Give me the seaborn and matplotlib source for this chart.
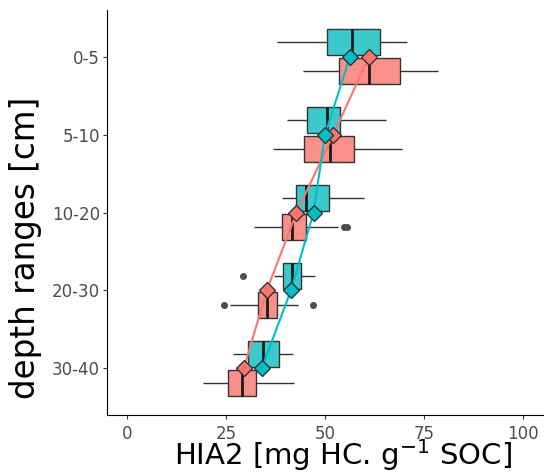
import matplotlib
matplotlib.use("Agg")
import pandas as pd
import matplotlib.pyplot as plt
import seaborn as sns

depths = ["0-5", "5-10", "10-20", "20-30", "30-40"]
groups = ["G1", "G2"]  # G1 = salmon (lower box), G2 = teal (upper box)

hia2_g1 = [
    [44.5, 49.8, 53.6, 57.4, 61.1, 64.7, 68.9, 71.4, 78.5],
    [36.9, 41.0, 44.8, 48.0, 51.3, 54.5, 57.2, 65.7, 69.5],
    [32.2, 33.5, 36.0, 39.2, 39.6, 40.5, 41.6, 42.0, 42.6, 45.3, 53.4, 54.9, 55.6],
    [24.6, 26.0, 30.5, 33.0, 33.8, 34.6, 35.3, 36.0, 37.0, 38.0, 39.8, 43.3, 47.0],
    [19.3, 22.5, 25.6, 27.0, 29.1, 30.5, 32.6, 36.7, 42.2],
]
hia2_g2 = [
    [37.9, 45.0, 50.6, 53.5, 56.7, 60.4, 63.9, 67.9, 70.8],
    [40.3, 41.5, 45.4, 46.0, 50.4, 51.0, 53.8, 56.3, 65.3],
    [39.2, 41.0, 42.8, 44.0, 45.2, 47.5, 51.0, 53.3, 59.9],
    [29.4, 37.2, 38.5, 39.5, 40.2, 41.0, 41.6, 42.6, 43.4, 43.9, 46.2, 47.2, 47.5],
    [26.8, 28.0, 30.5, 31.5, 34.4, 35.0, 38.4, 39.6, 41.8],
]
x_ticks = [0, 25, 50, 75, 100]

line_colors = {"G1": "#F8766D", "G2": "#00BFC4"}
box_colors = {"G1": "#F9918A", "G2": "#3CC9CC"}

rows = []
for g, per_depth in zip(groups, [hia2_g1, hia2_g2]):
    for d, vals in zip(depths, per_depth):
        for v in vals:
            rows.append((d, g, v))
df = pd.DataFrame(rows, columns=["depth", "group", "hia2"])

sns.set_theme(style="ticks")
plt.rcParams["font.family"] = ["DejaVu Sans"]

fig, ax = plt.subplots(figsize=(5.49, 4.75), dpi=100)
fig.subplots_adjust(left=0.195, right=0.989, bottom=0.126, top=0.979)

sns.boxplot(data=df, x="hia2", y="depth", hue="group", order=depths,
            hue_order=["G2", "G1"], palette=box_colors, saturation=1,
            width=0.75, gap=0.11, linewidth=1, linecolor="#333333",
            showcaps=False, whis=1.5, legend=False,
            medianprops=dict(color="#1a1a1a", linewidth=2),
            flierprops=dict(marker="o", markersize=4, markerfacecolor="#4d4d4d",
                            markeredgecolor="#4d4d4d"),
            ax=ax)

# mean diamonds joined across depths
sns.pointplot(data=df, x="hia2", y="depth", hue="group", order=depths,
              hue_order=["G1", "G2"], palette=line_colors, estimator="mean",
              errorbar=None, markers="D", linestyles="-", dodge=False,
              legend=False, markersize=8, linewidth=1.5,
              markeredgecolor="#333333", markeredgewidth=1, zorder=3, ax=ax)

ax.set_xlim(-5, 105)
ax.set_ylim(4.6, -0.6)
ax.set_xticks(x_ticks)
sns.despine(ax=ax)
for side in ["left", "bottom"]:
    ax.spines[side].set_color("black")
    ax.spines[side].set_linewidth(0.8)
ax.tick_params(axis="both", length=3, width=0.8, color="#333333",
               labelcolor="#4d4d4d", labelsize=12)
ax.tick_params(axis="x", pad=4)
ax.tick_params(axis="y", pad=2)

ax.set_xlabel("HIA2 [mg HC. g$^{-1}$ SOC]", fontsize=21, va="baseline", color="black")
ax.xaxis.set_label_coords(0.541, -0.123)
ax.set_ylabel("depth ranges [cm]", fontsize=23.5, color="black")
ax.yaxis.set_label_coords(-0.149, 0.414)

fig.savefig("out.png", dpi=100)
